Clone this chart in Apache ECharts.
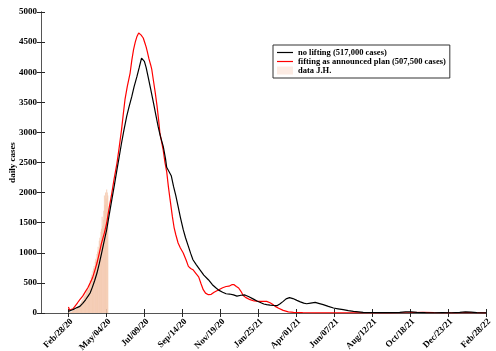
<!DOCTYPE html>
<html>
<head>
<meta charset="utf-8">
<script src="https://cdn.jsdelivr.net/npm/echarts@6/dist/echarts.min.js"></script>
<style>
  html, body { margin: 0; padding: 0; background: #fff; }
  #chart { width: 496px; height: 351px; }
</style>
</head>
<body>
<div id="chart"></div>
<script>
// days counted from Feb/28/20; the axis starts 48 days earlier
var startOffset = 48;
var spanDays = 731;
var tickLabels = ['Feb/28/20', 'May/04/20', 'Jul/09/20', 'Sep/14/20', 'Nov/19/20', 'Jan/25/21',
  'Apr/01/21', 'Jun/07/21', 'Aug/12/21', 'Oct/18/21', 'Dec/23/21', 'Feb/28/22'];

// no lifting
var noLiftDays = [0, 5, 10, 15, 20, 25, 30, 35, 38, 42, 46, 50, 54, 58, 62, 67, 71, 76, 80, 85, 89, 93, 97, 102,
  106, 111, 115, 120, 124, 128, 130, 133, 136, 140, 144, 149, 153, 157, 161, 166, 170, 172, 176, 180, 184, 188,
  192, 196, 201, 205, 210, 214, 218, 224, 230, 237, 245, 252, 258, 263, 270, 276, 282, 289, 295, 302, 309, 316,
  324, 330, 336, 342, 347, 353, 359, 365, 370, 376, 381, 387, 393, 400, 406, 412, 417, 424, 432, 438, 446, 455,
  464, 472, 481, 490, 499, 508, 516, 530, 545, 560, 580, 590, 600, 610, 625, 640, 655, 670, 685, 695, 705, 715, 731];
var noLiftCases = [27, 45, 65, 90, 110, 160, 220, 290, 332, 430, 540, 664, 820, 990, 1170, 1384, 1610, 1882, 2100,
  2380, 2600, 2824, 3030, 3266, 3420, 3598, 3760, 3930, 4080, 4235, 4255, 4180, 4080, 3903, 3720, 3488, 3290, 3100,
  2933, 2767, 2560, 2420, 2350, 2280, 2103, 1950, 1771, 1590, 1384, 1250, 1107, 990, 885, 800, 719, 630, 553, 470,
  420, 380, 345, 320, 315, 300, 280, 295, 300, 270, 230, 200, 175, 150, 138, 130, 125, 121, 150, 193, 235, 255,
  240, 209, 185, 165, 154, 165, 176, 160, 138, 110, 83, 70, 55, 40, 27, 18, 10, 8, 6, 5, 10, 18, 20, 12, 5, 4, 5,
  4, 10, 18, 15, 5, 3];

// lifting as announced plan
var planDays = [0, 2, 4, 8, 12, 16, 20, 25, 30, 34, 38, 42, 46, 50, 54, 58, 63, 67, 71, 76, 80, 85, 89, 93, 96, 99,
  103, 108, 111, 114, 117, 120, 123, 125, 127, 129, 131, 134, 136, 138, 141, 144, 146, 149, 152, 155, 158, 160, 163,
  166, 169, 172, 175, 178, 182, 185, 188, 192, 196, 201, 206, 210, 214, 218, 223, 228, 232, 236, 240, 245, 250, 255,
  260, 265, 270, 276, 281, 286, 290, 294, 298, 302, 306, 310, 318, 325, 333, 340, 347, 353, 358, 362, 368, 376, 385,
  394, 410, 430, 460, 500, 530, 560, 600, 620, 640, 680, 700, 731];
var planCases = [100, 50, 30, 70, 120, 170, 221, 280, 360, 420, 498, 580, 700, 830, 990, 1163, 1330, 1495, 1730,
  1993, 2230, 2491, 2760, 3045, 3300, 3543, 3760, 3986, 4200, 4374, 4500, 4594, 4650, 4661, 4620, 4600, 4568, 4480,
  4420, 4345, 4220, 4120, 4041, 3850, 3660, 3450, 3200, 3000, 2850, 2700, 2500, 2350, 2100, 1882, 1600, 1420, 1300,
  1163, 1080, 997, 880, 774, 740, 719, 660, 600, 490, 387, 330, 304, 310, 345, 370, 395, 420, 440, 445, 470, 470,
  440, 415, 360, 290, 260, 221, 200, 193, 195, 193, 170, 140, 110, 80, 43, 20, 10, 5, 3, 2, 3, 5, 3, 8, 12, 5, 3, 8, 2];

// reported daily cases (J.H.)
var jhCases = [5, 8, 10, 12, 15, 20, 22, 30, 35, 45, 50, 60, 55, 75, 80, 90, 95, 110, 120, 115, 140, 165, 150, 190,
  210, 230, 200, 260, 280, 310, 290, 340, 360, 390, 420, 380, 470, 500, 540, 520, 600, 640, 580, 700, 740, 780, 720,
  850, 900, 880, 980, 1020, 1100, 1050, 1200, 1250, 1150, 1350, 1400, 1600, 1450, 1550, 1700, 1950, 1800, 2000, 1900,
  2050, 2000, 1950];

var serif = '"Liberation Serif", "DejaVu Serif", serif';
var axisCol = '#262626';
var tickStep = spanDays / 11;
var tickVals = tickLabels.map(function (l, i) { return startOffset + i * tickStep; });
var lineIcon = 'path://M0,0 L16,0 L16,1.2 L0,1.2 Z';

function pairs(xs, ys) { return xs.map(function (x, i) { return [x + startOffset, ys[i]]; }); }

var chart = echarts.init(document.getElementById('chart'));
chart.setOption({
  animation: false,
  grid: { left: 41, right: 10, top: 12, bottom: 38, outerBoundsMode: 'none', containLabel: false },
  legend: {
    orient: 'vertical', left: 273, top: 45, itemGap: 0, padding: [3, 4, 3, 4],
    itemWidth: 16, itemHeight: 8, borderColor: '#333', borderWidth: 1, backgroundColor: '#fff',
    textStyle: { fontFamily: serif, fontWeight: 'bold', fontSize: 8.5, color: '#000' },
    data: [
      { name: 'no lifting (517,000 cases)', icon: lineIcon },
      { name: 'fifting as announced plan (507,500 cases)', icon: lineIcon },
      { name: 'data J.H.', icon: 'rect', itemStyle: { color: '#fbe8de' } }
    ]
  },
  xAxis: [{
    type: 'value', min: 0, max: startOffset + spanDays,
    axisLine: { lineStyle: { color: axisCol } },
    splitLine: { show: false },
    axisTick: { inside: true, length: 4, customValues: tickVals, lineStyle: { color: axisCol } },
    axisLabel: {
      customValues: tickVals, rotate: 45, margin: 4, align: 'right', verticalAlign: 'top',
      fontFamily: serif, fontWeight: 'bold', fontSize: 9, color: '#000',
      formatter: function (v) { return tickLabels[Math.round((v - startOffset) / tickStep)]; }
    }
  }, {
    type: 'value', position: 'top', min: 0, max: startOffset + spanDays,
    axisLine: { show: true, lineStyle: { color: '#555' } },
    splitLine: { show: false },
    axisTick: { inside: true, length: 4, customValues: tickVals, lineStyle: { color: axisCol } },
    axisLabel: { show: false }
  }],
  yAxis: [{
    type: 'value', min: 0, max: 5000, interval: 500, position: 'left',
    name: 'daily cases', nameLocation: 'middle', nameGap: 24, nameRotate: 90, nameMoveOverlap: false,
    nameTextStyle: { fontFamily: serif, fontWeight: 'bold', fontSize: 9, color: '#000' },
    axisLine: { show: true, lineStyle: { color: axisCol } },
    splitLine: { show: false },
    axisTick: { show: true, inside: true, length: 4, lineStyle: { color: axisCol } },
    axisLabel: {
      fontFamily: serif, fontWeight: 'bold', fontSize: 9, color: '#000', margin: 4, align: 'right',
      formatter: function (v) { return String(v); }
    }
  }, {
    type: 'value', position: 'right', min: 0, max: 5000, interval: 500,
    axisLine: { show: true, lineStyle: { color: '#555' } },
    splitLine: { show: false },
    axisTick: { show: true, inside: true, length: 4, lineStyle: { color: axisCol } },
    axisLabel: { show: false }
  }],
  series: [{
    name: 'data J.H.', type: 'bar', barWidth: 1, barGap: '-100%',
    itemStyle: { color: '#f3c8ae', opacity: 0.85 },
    data: jhCases.map(function (v, i) { return [i + startOffset, v]; }),
    z: 1
  }, {
    name: 'no lifting (517,000 cases)', type: 'line', symbol: 'none',
    lineStyle: { color: '#000', width: 1.2 }, itemStyle: { color: '#000' },
    data: pairs(noLiftDays, noLiftCases), z: 3
  }, {
    name: 'fifting as announced plan (507,500 cases)', type: 'line', symbol: 'none',
    lineStyle: { color: '#ff0000', width: 1.2 }, itemStyle: { color: '#ff0000' },
    data: pairs(planDays, planCases), z: 2
  }]
});
</script>
</body>
</html>
